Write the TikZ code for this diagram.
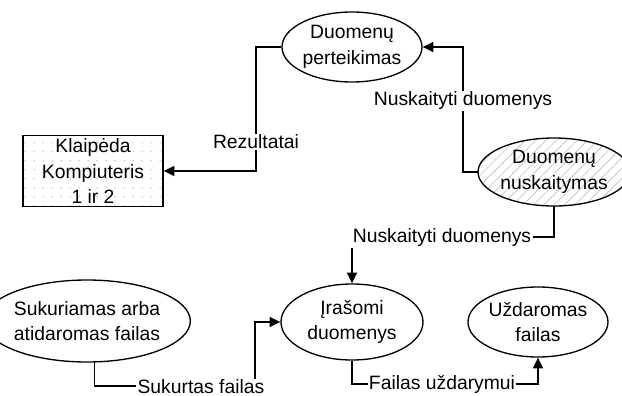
\documentclass[tikz,border=0pt]{standalone}
\usepackage{fontspec}
\setmainfont{Liberation Sans}
\usetikzlibrary{arrows.meta, shapes.geometric, patterns.meta}
\definecolor{dfdLine}{RGB}{0,0,0}
\definecolor{dfdPattern}{RGB}{190,190,190}

\begin{document}
\begin{tikzpicture}[
    x=0.75pt, y=-0.75pt,
    proc/.style={draw=dfdLine, line width=1pt, ellipse, inner sep=0pt, align=center, font=\fontsize{14.5}{19}\selectfont},
    readproc/.style={proc, pattern={Lines[angle=45, distance=5.5pt, line width=0.5pt]}, pattern color=dfdPattern},
    entity/.style={draw=dfdLine, line width=1pt, rectangle, inner sep=0pt, align=center, minimum width=105pt, minimum height=53pt, font=\fontsize{14.5}{19}\selectfont, pattern={Dots[distance=6.5pt, radius=0.6pt]}, pattern color=dfdPattern},
    flowlbl/.style={fill=white, inner sep=1pt, font=\fontsize{14.5}{18}\selectfont},
    flow/.style={-{Triangle[length=8pt, width=7.5pt]}, line width=1.1pt, draw=dfdLine}
]
    \useasboundingbox (0,0) rectangle (622,396);

    % processes and entity
    \node[proc, minimum width=105pt, minimum height=52.5pt] (perteik) at (352,47) {Duomenų\\perteikimas};
    \node[readproc, minimum width=99pt, minimum height=51pt] (nuskait) at (554,172) {Duomenų\\nuskaitymas};
    \node[entity] (klaip) at (93,171) {Klaipėda\\Kompiuteris\\1 ir 2};
    \node[proc, minimum width=124.5pt, minimum height=61.5pt] (sukur) at (87,321) {Sukuriamas arba\\atidaromas failas};
    \node[proc, minimum width=106.5pt, minimum height=57pt] (irasomi) at (352,322) {Įrašomi\\duomenys};
    \node[proc, minimum width=105pt, minimum height=52.5pt] (uzdar) at (538,322) {Uždaromas\\failas};

    % bends
    \coordinate (rez) at (256,100);
    \coordinate (ndTop) at (463,100);
    \coordinate (ndLow) at (352,237);
    \coordinate (sukFail) at (255,386);
    \coordinate (uzdFail) at (538,384);

    \draw[flow] (perteik.west) -| (rez) |- (klaip.east);
    \draw[flow] (nuskait.west) -| (ndTop) |- (perteik.east);
    \draw[flow] (nuskait.south) |- (ndLow) -- (irasomi.north);
    \draw[flow] (sukur.-80) |- (sukFail) |- (irasomi.west);
    \draw[flow] (irasomi.south) |- (uzdFail) -- (uzdar.south);

    % labels
    \node[flowlbl] (lblRez) at (256,142) {Rezultatai};
    \node[flowlbl] (lblNdTop) at (463,101) {Nuskaityti duomenys};
    \node[flowlbl] (lblNdLow) at (442,238) {Nuskaityti duomenys};
    \node[flowlbl] (lblSuk) at (201,387) {Sukurtas failas};
    \node[flowlbl] (lblUzd) at (442,384) {Failas uždarymui};
\end{tikzpicture}
\end{document}
